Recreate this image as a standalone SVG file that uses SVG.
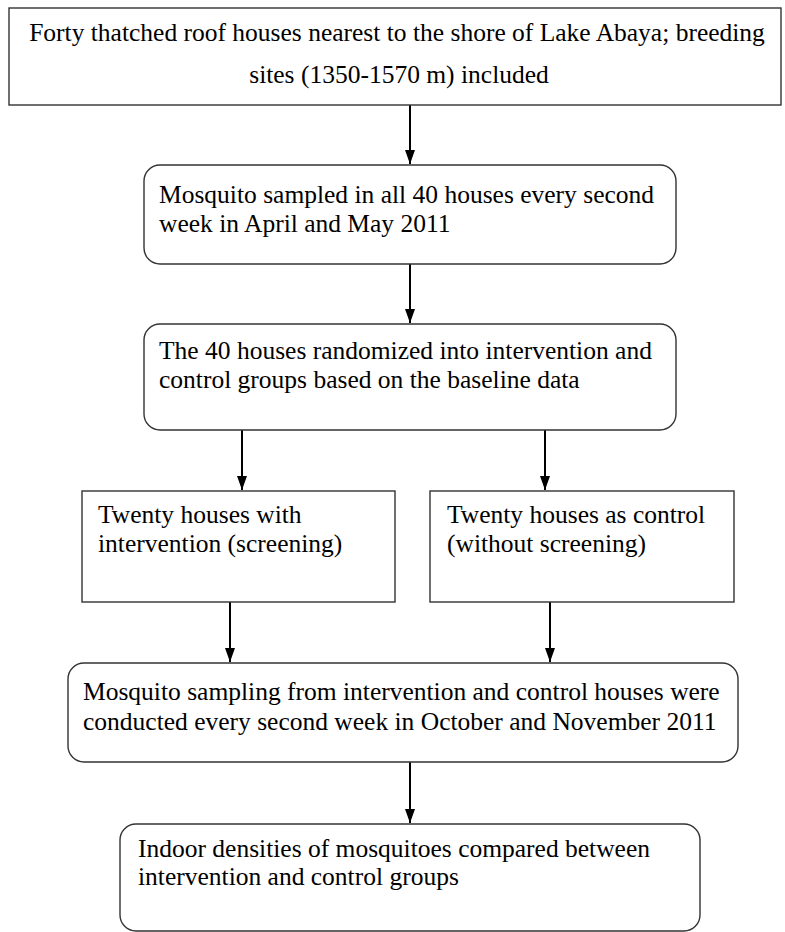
<svg xmlns="http://www.w3.org/2000/svg" width="785" height="932" viewBox="0 0 785 932">
<style>
.box{fill:#fff;stroke:#333;stroke-width:1.4}
.t{font-family:"Liberation Serif","Times New Roman",serif;font-size:25.5px;fill:#000}
.c{stroke:#000;stroke-width:2;fill:none}
</style>
<defs>
<marker id="ah" viewBox="0 0 14 10" refX="14" refY="5" markerWidth="14" markerHeight="10" markerUnits="userSpaceOnUse" orient="auto">
<path d="M0,0 L14,5 L0,10 Z" fill="#000"/>
</marker>
</defs>
<rect width="785" height="932" fill="#fff"/>
<g id="connectors">
<line class="c" x1="410" y1="105" x2="410" y2="164" marker-end="url(#ah)"/>
<line class="c" x1="410" y1="264" x2="410" y2="323" marker-end="url(#ah)"/>
<line class="c" x1="242" y1="430" x2="242" y2="490" marker-end="url(#ah)"/>
<line class="c" x1="545" y1="430" x2="545" y2="490" marker-end="url(#ah)"/>
<line class="c" x1="230" y1="602" x2="230" y2="662" marker-end="url(#ah)"/>
<line class="c" x1="550" y1="602" x2="550" y2="662" marker-end="url(#ah)"/>
<line class="c" x1="410" y1="762" x2="410" y2="823" marker-end="url(#ah)"/>
</g>
<g id="n1">
<rect class="box" x="9" y="8" width="772" height="97"/>
<text class="t" x="397" y="41" text-anchor="middle">Forty thatched roof houses nearest to the shore of Lake Abaya; breeding</text>
<text class="t" x="399" y="83" text-anchor="middle">sites (1350-1570 m) included</text>
</g>
<g id="n2">
<rect class="box" x="144" y="165" width="532" height="99" rx="16"/>
<text class="t" x="159" y="203">Mosquito sampled in all 40 houses every second</text>
<text class="t" x="159" y="232">week in April and May 2011</text>
</g>
<g id="n3">
<rect class="box" x="144" y="324" width="532" height="106" rx="16"/>
<text class="t" x="159" y="359">The 40 houses randomized into intervention and</text>
<text class="t" x="159" y="388">control groups based on the baseline data</text>
</g>
<g id="n4">
<rect class="box" x="82" y="491" width="313" height="111"/>
<text class="t" x="98" y="523">Twenty houses with</text>
<text class="t" x="98" y="552">intervention (screening)</text>
</g>
<g id="n5">
<rect class="box" x="430" y="491" width="304" height="111"/>
<text class="t" x="447" y="523">Twenty houses as control</text>
<text class="t" x="447" y="552">(without screening)</text>
</g>
<g id="n6">
<rect class="box" x="68" y="663" width="670" height="99" rx="16"/>
<text class="t" x="83" y="700">Mosquito sampling from intervention and control houses were</text>
<text class="t" x="83" y="730">conducted every second week in October and November 2011</text>
</g>
<g id="n7">
<rect class="box" x="120" y="824" width="580" height="107" rx="16"/>
<text class="t" x="138" y="857">Indoor densities of mosquitoes compared between</text>
<text class="t" x="138" y="885">intervention and control groups</text>
</g>
</svg>
